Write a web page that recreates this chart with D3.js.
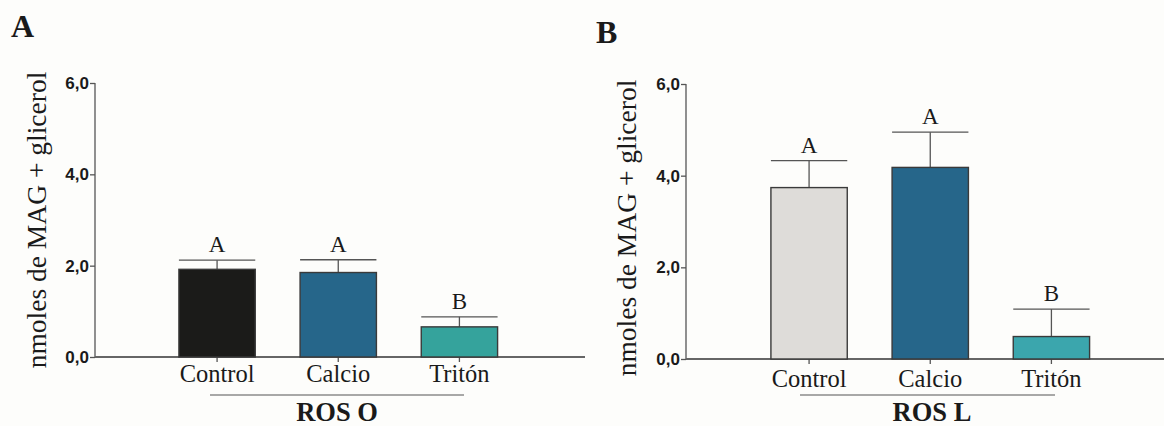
<!DOCTYPE html>
<meta charset="utf-8">
<head>
  <title>MAG + glicerol</title>
  <style>
  body { margin: 0; background: #fdfdfb; }
  svg { display: block; }
  .serif { font-family: "Liberation Serif", "Times New Roman", serif; fill: #1a1a1a; }
  .tick text { font-family: "Liberation Sans", Arial, sans-serif; font-weight: bold; font-size: 17px; fill: #1a1a1a; }
  </style>
</head>
<html>
  <body>
    <svg width="1164" height="426"></svg>
  </body>
</html>
<script src="https://cdn.jsdelivr.net/npm/d3@7"></script>
<script>
var categories = ["Control", "Calcio", "Tritón"];
var yTicks = [0, 2, 4, 6];

var rosOMeans = [1.92, 1.85, 0.66];
var rosOErrors = [0.20, 0.28, 0.22];
var rosOLetters = ["A", "A", "B"];

var rosLMeans = [3.74, 4.18, 0.49];
var rosLErrors = [0.59, 0.77, 0.60];
var rosLLetters = ["A", "A", "B"];

var svg = d3.select("svg");
svg.append("rect").attr("width", 1164).attr("height", 426).attr("fill", "#fdfdfb");

var fmt = function(d) { return d3.format(".1f")(d).replace(".", ","); };

function panel(opt) {
  var g = svg.append("g");

  var y = d3.scaleLinear().domain([0, 6]).range([opt.y0, opt.y6]);
  var x = d3.scaleBand()
      .domain(categories)
      .range(opt.bandRange)
      .paddingInner(0.37)
      .paddingOuter(0.185);

  // panel letter
  g.append("text")
      .attr("class", "serif")
      .attr("x", opt.letterX).attr("y", opt.letterY)
      .attr("font-size", 32).attr("font-weight", "bold")
      .text(opt.letter);

  // y axis
  var ya = g.append("g")
      .attr("transform", "translate(" + opt.axisX + ",0)")
      .call(d3.axisLeft(y).tickValues(yTicks).tickFormat(fmt).tickSize(5).tickPadding(1));
  ya.selectAll("path, line").attr("stroke", "#555").attr("stroke-width", 1.3);
  ya.select(".domain").attr("d", "M0," + y(6) + "V" + y(0));

  // baseline
  g.append("line")
      .attr("x1", opt.axisX).attr("x2", opt.baseEnd)
      .attr("y1", y(0)).attr("y2", y(0))
      .attr("stroke", "#666").attr("stroke-width", 1.8);

  // x ticks
  g.selectAll(".xt").data(categories).enter().append("line")
      .attr("x1", function(d) { return x(d) + x.bandwidth() / 2; })
      .attr("x2", function(d) { return x(d) + x.bandwidth() / 2; })
      .attr("y1", y(0)).attr("y2", y(0) + 5)
      .attr("stroke", "#555").attr("stroke-width", 1.3);

  // y title
  g.append("text")
      .attr("class", "serif")
      .attr("transform", "translate(" + opt.titleX + "," + opt.titleY + ") rotate(-90)")
      .attr("text-anchor", "middle")
      .attr("font-size", 27.5)
      .text("nmoles de MAG + glicerol");

  var rows = categories.map(function(c, i) {
    return { c: c, m: opt.means[i], e: opt.errors[i], l: opt.letters[i], col: opt.colors[i] };
  });

  // error bars
  rows.forEach(function(d) {
    var cx = x(d.c) + x.bandwidth() / 2;
    g.append("line")
        .attr("x1", cx).attr("x2", cx)
        .attr("y1", y(d.m)).attr("y2", y(d.m + d.e))
        .attr("stroke", "#555").attr("stroke-width", 1.3);
    g.append("line")
        .attr("x1", x(d.c)).attr("x2", x(d.c) + x.bandwidth())
        .attr("y1", y(d.m + d.e)).attr("y2", y(d.m + d.e))
        .attr("stroke", "#555").attr("stroke-width", 1.3);
    g.append("text")
        .attr("class", "serif")
        .attr("x", cx).attr("y", y(d.m + d.e) - 8)
        .attr("text-anchor", "middle")
        .attr("font-size", 23)
        .text(d.l);
  });

  // bars
  g.selectAll(".bar").data(rows).enter().append("rect")
      .attr("x", function(d) { return x(d.c); })
      .attr("y", function(d) { return y(d.m); })
      .attr("width", x.bandwidth())
      .attr("height", function(d) { return y(0) - y(d.m); })
      .attr("fill", function(d) { return d.col; })
      .attr("stroke", "#3a3a3a").attr("stroke-width", 1.4);

  // category labels
  g.selectAll(".cl").data(categories).enter().append("text")
      .attr("class", "serif")
      .attr("x", function(d) { return x(d) + x.bandwidth() / 2; })
      .attr("y", opt.labelY)
      .attr("text-anchor", "middle")
      .attr("font-size", 24.5)
      .text(function(d) { return d; });

  // group underline + name
  g.append("line")
      .attr("x1", opt.underline[0]).attr("x2", opt.underline[1])
      .attr("y1", 395).attr("y2", 395)
      .attr("stroke", "#555").attr("stroke-width", 1.2);
  g.append("text")
      .attr("class", "serif")
      .attr("x", opt.groupX).attr("y", 421)
      .attr("text-anchor", "middle")
      .attr("font-size", 26.5).attr("font-weight", "bold")
      .text(opt.group);
}

panel({
  letter: "A", letterX: 11, letterY: 37,
  axisX: 95, y0: 357, y6: 83, baseEnd: 585,
  bandRange: [156.5, 520],
  titleX: 46, titleY: 220,
  means: rosOMeans, errors: rosOErrors, letters: rosOLetters,
  colors: ["#1b1b19", "#26668a", "#35a39c"],
  labelY: 382, underline: [210, 464], groupX: 337, group: "ROS O"
});

panel({
  letter: "B", letterX: 596, letterY: 43,
  axisX: 686, y0: 359, y6: 84, baseEnd: 1164,
  bandRange: [748.5, 1112],
  titleX: 636, titleY: 228,
  means: rosLMeans, errors: rosLErrors, letters: rosLLetters,
  colors: ["#dedcd9", "#26668a", "#3ba6ad"],
  labelY: 387, underline: [800, 1055], groupX: 932, group: "ROS L"
});
</script>
